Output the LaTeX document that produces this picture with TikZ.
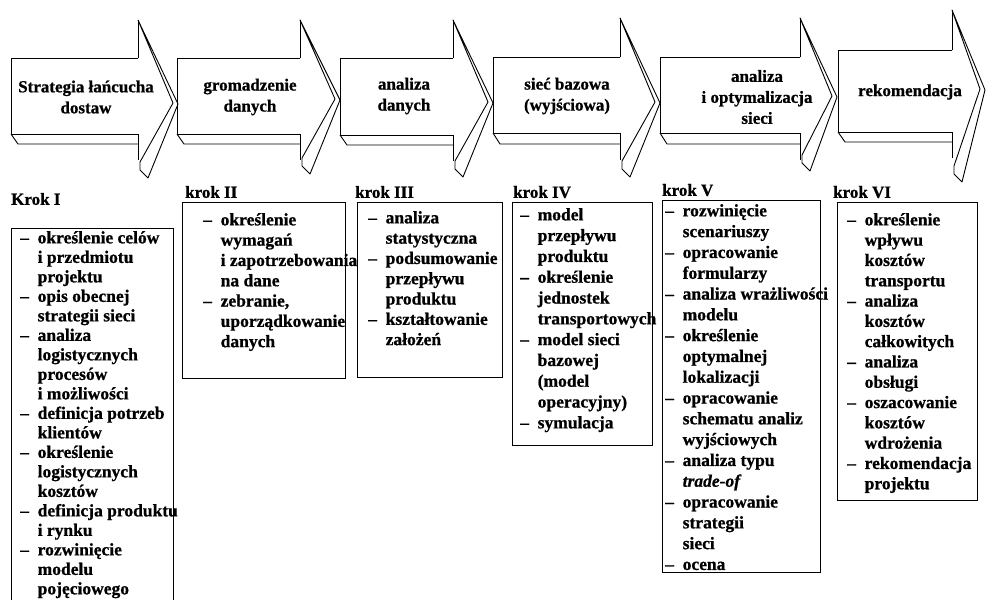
\documentclass[tikz,border=0pt]{standalone}
\usepackage{fontspec}
\setmainfont{Liberation Serif}[BoldFeatures={FakeBold=0.8},BoldItalicFeatures={FakeBold=0.8}]
\usetikzlibrary{positioning}
\newcommand{\pk}{\makebox[1em][l]{–}}
\newcommand{\wc}{\hspace*{1em}}

\begin{document}
\begin{tikzpicture}[x=1pt,y=-1pt]
\tikzstyle{kontur}=[line width=0.9pt,line join=round]
\tikzstyle{naglowek}=[align=center,inner sep=0pt,font=\fontsize{17}{21}\selectfont\bfseries]
\tikzstyle{krok}=[anchor=west,inner sep=0pt,font=\fontsize{17}{20}\selectfont\bfseries]
\tikzstyle{ramka}=[draw=black,line width=1.3pt,anchor=north west,inner sep=0pt]
\tikzstyle{lista}=[align=left,anchor=north west,inner sep=0pt,font=\fontsize{17.5}{20.3}\selectfont\bfseries]
\useasboundingbox[fill=white] (0,0) rectangle (989,600);

% strzalka I
\draw[kontur] (138,58) -- (11,58) -- (11,134) -- (138,134);
\draw[kontur] (11,134) -- (18,144) -- (138,144);
\draw[kontur] (138,134) -- (138,160);
\draw[kontur] (138,58) -- (138,20);
\draw[kontur] (138,20) -- (178,104) -- (148,178) -- (140,170) -- (140,162) -- (173,103) -- cycle;
% strzalka II
\draw[kontur] (300,58) -- (177,58) -- (177,134) -- (300,134);
\draw[kontur] (177,134) -- (184,144) -- (300,144);
\draw[kontur] (300,134) -- (300,160);
\draw[kontur] (300,58) -- (300,20);
\draw[kontur] (300,20) -- (340,100) -- (310,174) -- (302,166) -- (302,158) -- (335,99) -- cycle;
% strzalka III
\draw[kontur] (453,58) -- (340,58) -- (340,135) -- (453,135);
\draw[kontur] (340,135) -- (347,145) -- (453,145);
\draw[kontur] (453,135) -- (453,161);
\draw[kontur] (453,58) -- (453,20);
\draw[kontur] (453,20) -- (493,103) -- (463,177) -- (455,169) -- (455,161) -- (488,102) -- cycle;
% strzalka IV
\draw[kontur] (620,57) -- (493,57) -- (493,133) -- (620,133);
\draw[kontur] (493,133) -- (500,144) -- (620,144);
\draw[kontur] (620,133) -- (620,160);
\draw[kontur] (620,57) -- (620,18);
\draw[kontur] (620,18) -- (660,103) -- (630,177) -- (622,169) -- (622,161) -- (655,102) -- cycle;
% strzalka V
\draw[kontur] (800,57) -- (660,57) -- (660,133) -- (800,133);
\draw[kontur] (660,133) -- (667,144) -- (800,144);
\draw[kontur] (800,133) -- (800,160);
\draw[kontur] (800,57) -- (800,18);
\draw[kontur] (800,18) -- (837,97) -- (810,171) -- (802,163) -- (802,155) -- (832,96) -- cycle;
% strzalka VI
\draw[kontur] (952,50) -- (838,50) -- (838,132) -- (952,132);
\draw[kontur] (838,132) -- (845,142) -- (952,142);
\draw[kontur] (952,132) -- (952,158);
\draw[kontur] (952,50) -- (952,10);
\draw[kontur] (952,10) -- (985,90) -- (962,182) -- (954,174) -- (954,166) -- (980,89) -- cycle;

\node [naglowek] (h1) at (86,97) {Strategia łańcucha\\dostaw};
\node [naglowek] (h2) at (250,97) {gromadzenie\\danych};
\node [naglowek] (h3) at (404,96) {analiza\\danych};
\node [naglowek] (h4) at (567,96) {sieć bazowa\\(wyjściowa)};
\node [naglowek] (h5) at (757,97) {analiza\\i optymalizacja\\sieci};
\node [naglowek] (h6) at (910,92) {rekomendacja};

\node [krok] (k1) at (11,199) {Krok I};
\node [krok] (k2) at (185,192) {krok II};
\node [krok] (k3) at (355,192) {krok III};
\node [krok] (k4) at (513,192) {krok IV};
\node [krok] (k5) at (662,190) {krok V};
\node [krok] (k6) at (833,192) {krok VI};

\node [ramka,minimum width=162pt,minimum height=382pt] (r1) at (11,228) {};
\node [ramka,minimum width=163pt,minimum height=176pt] (r2) at (182,202) {};
\node [ramka,minimum width=145pt,minimum height=175pt] (r3) at (357,202) {};
\node [ramka,minimum width=140pt,minimum height=243pt] (r4) at (512,202) {};
\node [ramka,minimum width=158pt,minimum height=372pt] (r5) at (662,200) {};
\node [ramka,minimum width=140pt,minimum height=298pt] (r6) at (837,202) {};

\node [lista,font=\fontsize{17.5}{19.5}\selectfont\bfseries] (t1) at ([shift={(9,3)}]r1.north west) {\pk określenie celów\\\wc i przedmiotu\\\wc projektu\\\pk opis obecnej\\\wc strategii sieci\\\pk analiza\\\wc logistycznych\\\wc procesów\\\wc i możliwości\\\pk definicja potrzeb\\\wc klientów\\\pk określenie\\\wc logistycznych\\\wc kosztów\\\pk definicja produktu\\\wc i rynku\\\pk rozwinięcie\\\wc modelu\\\wc pojęciowego};
\node [lista] (t2) at ([shift={(21,11)}]r2.north west) {\pk określenie\\\wc wymagań\\\wc i zapotrzebowania\\\wc na dane\\\pk zebranie,\\\wc uporządkowanie\\\wc danych};
\node [lista] (t3) at ([shift={(11,9)}]r3.north west) {\pk analiza\\\wc statystyczna\\\pk podsumowanie\\\wc przepływu\\\wc produktu\\\pk kształtowanie\\\wc założeń};
\node [lista,font=\fontsize{17.5}{20.8}\selectfont\bfseries] (t4) at ([shift={(8,6)}]r4.north west) {\pk model\\\wc przepływu\\\wc produktu\\\pk określenie\\\wc jednostek\\\wc transportowych\\\pk model sieci\\\wc bazowej\\\wc (model\\\wc operacyjny)\\\pk symulacja};
\node [lista,font=\fontsize{17.5}{20.8}\selectfont\bfseries] (t5) at ([shift={(3,4)}]r5.north west) {\pk rozwinięcie\\\wc scenariuszy\\\pk opracowanie\\\wc formularzy\\\pk analiza wrażliwości\\\wc modelu\\\pk określenie\\\wc optymalnej\\\wc lokalizacji\\\pk opracowanie\\\wc schematu analiz\\\wc wyjściowych\\\pk analiza typu\\\wc \textit{trade-of}\\\pk opracowanie\\\wc strategii\\\wc sieci\\\pk ocena};
\node [lista] (t6) at ([shift={(10,11)}]r6.north west) {\pk określenie\\\wc wpływu\\\wc kosztów\\\wc transportu\\\pk analiza\\\wc kosztów\\\wc całkowitych\\\pk analiza\\\wc obsługi\\\pk oszacowanie\\\wc kosztów\\\wc wdrożenia\\\pk rekomendacja\\\wc projektu};
\end{tikzpicture}
\end{document}
